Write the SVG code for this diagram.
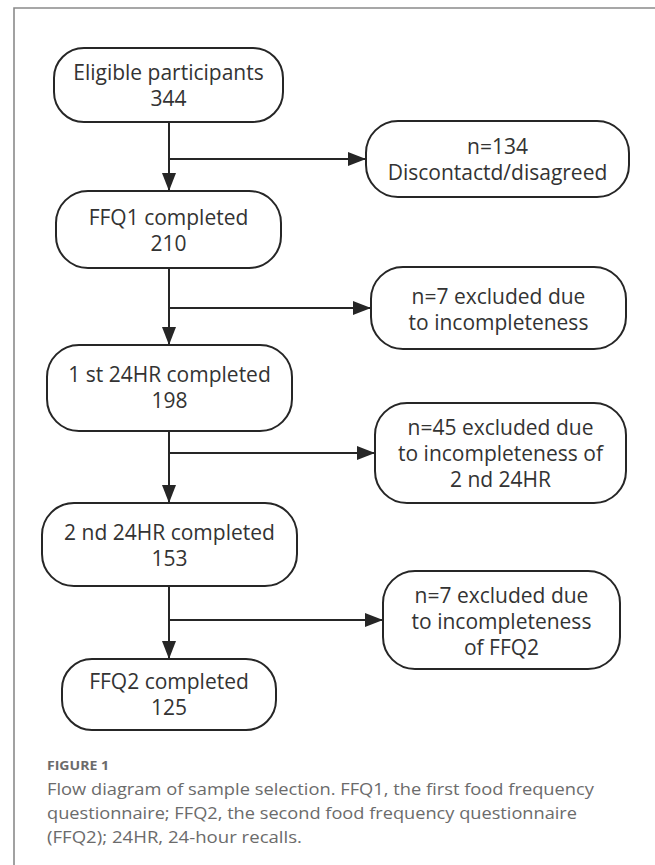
<svg xmlns="http://www.w3.org/2000/svg" width="655" height="865" viewBox="0 0 655 865">
<style>
.frame{fill:none;stroke:#8a8a8a;stroke-width:1.6}
.node rect{fill:#fff;stroke:#262626;stroke-width:2}
.node text{font-family:"Open Sans","Noto Sans","DejaVu Sans",sans-serif;font-size:21px;fill:#333;text-anchor:middle}
.conn{fill:none;stroke:#262626;stroke-width:2}
.cap{font-family:"Open Sans","Noto Sans",sans-serif;fill:#6b6b6b}
</style>
<defs>
<marker id="ah" markerWidth="18" markerHeight="14" refX="17" refY="7" orient="auto" markerUnits="userSpaceOnUse">
<path d="M0,0 L18,7 L0,14 Z" fill="#262626"/>
</marker>
</defs>
<rect width="655" height="865" fill="#fff"/>
<path class="frame" d="M14,865 V8 H655"/>
<g id="connectors">
<path class="conn" d="M169,122 V190" marker-end="url(#ah)"/>
<path class="conn" d="M169,159 H365" marker-end="url(#ah)"/>
<path class="conn" d="M169,268 V344" marker-end="url(#ah)"/>
<path class="conn" d="M169,308 H370" marker-end="url(#ah)"/>
<path class="conn" d="M169,431 V502" marker-end="url(#ah)"/>
<path class="conn" d="M169,453 H374" marker-end="url(#ah)"/>
<path class="conn" d="M169,586 V658" marker-end="url(#ah)"/>
<path class="conn" d="M169,620 H382" marker-end="url(#ah)"/>
</g>
<g id="n1" class="node"><rect x="54" y="48" width="229" height="74" rx="30"/><text x="168.5" y="80">Eligible participants</text><text x="168.5" y="106">344</text></g>
<g id="n2" class="node"><rect x="366" y="121" width="263" height="76" rx="32"/><text x="497.5" y="154">n=134</text><text x="497.5" y="180">Discontactd/disagreed</text></g>
<g id="n3" class="node"><rect x="56" y="191" width="225" height="77" rx="32"/><text x="168.5" y="225">FFQ1 completed</text><text x="168.5" y="251">210</text></g>
<g id="n4" class="node"><rect x="371" y="267" width="255" height="82" rx="32"/><text x="498.5" y="304">n=7 excluded due</text><text x="498.5" y="330">to incompleteness</text></g>
<g id="n5" class="node"><rect x="47" y="345" width="245" height="86" rx="32"/><text x="169.5" y="382">1 st 24HR completed</text><text x="169.5" y="408">198</text></g>
<g id="n6" class="node"><rect x="375" y="403" width="251" height="100" rx="32"/><text x="500.5" y="435">n=45 excluded due</text><text x="500.5" y="461">to incompleteness of</text><text x="500.5" y="487">2 nd 24HR</text></g>
<g id="n7" class="node"><rect x="42" y="503" width="255" height="83" rx="32"/><text x="169.5" y="540">2 nd 24HR completed</text><text x="169.5" y="566">153</text></g>
<g id="n8" class="node"><rect x="383" y="571" width="237" height="98" rx="32"/><text x="501.5" y="603">n=7 excluded due</text><text x="501.5" y="629">to incompleteness</text><text x="501.5" y="655">of FFQ2</text></g>
<g id="n9" class="node"><rect x="62" y="659" width="214" height="71" rx="30"/><text x="169" y="689">FFQ2 completed</text><text x="169" y="715">125</text></g>
<text class="cap" x="47" y="770" font-size="13" font-weight="bold" fill="#7a7a7a" textLength="62" lengthAdjust="spacingAndGlyphs">FIGURE 1</text>
<text class="cap" x="47" y="795" font-size="17" textLength="547" lengthAdjust="spacingAndGlyphs">Flow diagram of sample selection. FFQ1, the first food frequency</text>
<text class="cap" x="47" y="819" font-size="17" textLength="530" lengthAdjust="spacingAndGlyphs">questionnaire; FFQ2, the second food frequency questionnaire</text>
<text class="cap" x="47" y="843" font-size="17" textLength="255" lengthAdjust="spacingAndGlyphs">(FFQ2); 24HR, 24-hour recalls.</text>
</svg>
